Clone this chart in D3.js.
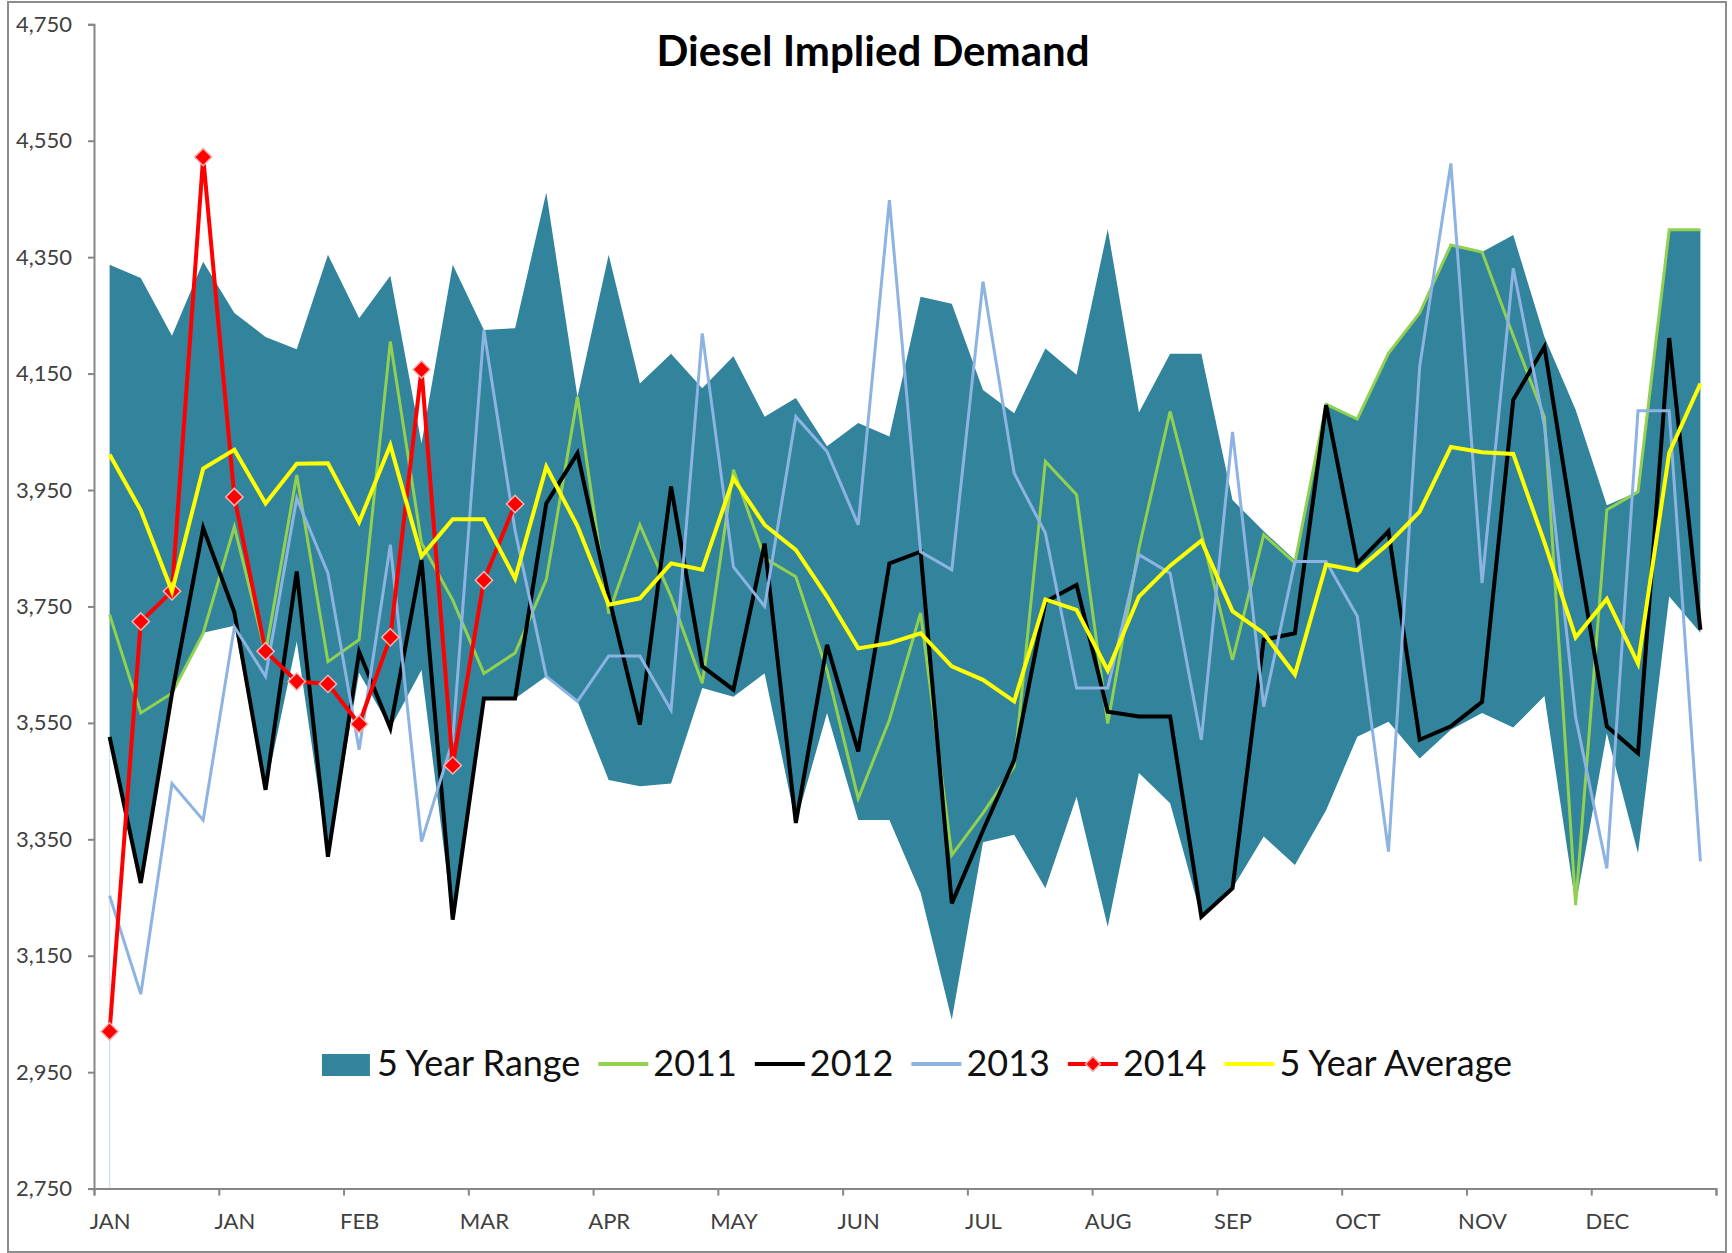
<!DOCTYPE html>
<html>
<head>
<meta charset="utf-8">
<script src="https://cdn.jsdelivr.net/npm/d3@7"></script>
<style>
  body { margin: 0; background: #fff; }
  svg { display: block; font-family: Lato, "Open Sans", sans-serif; }
</style>
</head>
<body>
<svg id="chart" width="1732" height="1253"></svg>
<script>
// Weekly values, 52 weeks (thousand b/d)
const monthLabels = ["JAN", "JAN", "FEB", "MAR", "APR", "MAY", "JUN", "JUL", "AUG", "SEP", "OCT", "NOV", "DEC"];
const labelWeeks = [0, 4, 8, 12, 16, 20, 24, 28, 32, 36, 40, 44, 48];
const yTicks = [2750, 2950, 3150, 3350, 3550, 3750, 3950, 4150, 4350, 4550, 4750];

const rangeMin = [3526, 3275, 3600, 3705, 3717, 3435, 3690, 3320, 3636, 3541, 3641, 3212, 3592, 3592, 3630, 3587,
  3452, 3441, 3446, 3610, 3595, 3635, 3378, 3567, 3383, 3383, 3258, 3040, 3345, 3358, 3266, 3423, 3200, 3464,
  3412, 3217, 3266, 3355, 3306, 3400, 3526, 3552, 3489, 3538, 3567, 3542, 3596, 3237, 3532, 3326, 3767, 3705];
const rangeMax = [4337, 4314, 4215, 4342, 4254, 4213, 4192, 4354, 4245, 4318, 4030, 4337, 4225, 4228, 4461, 4110,
  4354, 4133, 4184, 4125, 4180, 4076, 4108, 4025, 4065, 4042, 4282, 4270, 4122, 4082, 4193, 4148, 4398, 4083,
  4184, 4184, 3933, 3879, 3830, 4100, 4073, 4185, 4254, 4371, 4359, 4388, 4213, 4088, 3924, 3947, 4397, 4397];
const y2011 = [3736, 3567, 3601, 3704, 3887, 3670, 3976, 3655, 3693, 4205, 3859, 3761, 3635, 3670, 3796, 4110,
  3738, 3890, 3767, 3618, 3985, 3833, 3801, 3640, 3420, 3555, 3739, 3323, 3395, 3475, 3999, 3942, 3549, 3850,
  4085, 3876, 3658, 3873, 3825, 4097, 4072, 4185, 4254, 4371, 4359, 4215, 4075, 3237, 3916, 3947, 4397, 4397];
const y2012 = [3526, 3275, 3600, 3885, 3740, 3435, 3810, 3320, 3672, 3541, 3830, 3212, 3592, 3592, 3927, 4013,
  3767, 3547, 3956, 3647, 3607, 3858, 3378, 3684, 3501, 3824, 3844, 3240, 3365, 3486, 3758, 3787, 3569, 3561,
  3561, 3217, 3266, 3693, 3704, 4096, 3824, 3879, 3521, 3544, 3586, 4105, 4196, 3860, 3544, 3498, 4211, 3710];
const y2013 = [3253, 3084, 3446, 3383, 3715, 3630, 3936, 3807, 3504, 3856, 3346, 3520, 4225, 3880, 3630, 3587,
  3665, 3665, 3572, 4219, 3818, 3750, 4076, 4016, 3890, 4448, 3844, 3813, 4308, 3979, 3876, 3610, 3610, 3839,
  3807, 3521, 4050, 3578, 3827, 3827, 3733, 3329, 4162, 4511, 3790, 4331, 4060, 3560, 3300, 4086, 4086, 3312];
const y2014 = [3020, 3724, 3776, 4522, 3938, 3673, 3621, 3617, 3548, 3697, 4157, 3477, 3795, 3926];
const avg5 = [4011, 3915, 3776, 3987, 4019, 3927, 3995, 3996, 3895, 4027, 3836, 3900, 3900, 3798, 3990, 3888,
  3753, 3764, 3824, 3813, 3970, 3890, 3847, 3767, 3678, 3687, 3704, 3647, 3624, 3587, 3762, 3744, 3640, 3767,
  3820, 3863, 3742, 3704, 3633, 3822, 3812, 3858, 3913, 4024, 4015, 4012, 3860, 3697, 3763, 3652, 4014, 4133];

const colors = { range: "#31849B", y2011: "#92D050", y2012: "#000000", y2013: "#8DB3E2", y2014: "#FF0000", avg: "#FFFF00" };

const svg = d3.select("#chart");
const W = 1732, H = 1253;
const plot = { left: 94, right: 1716, top: 24.3, bottom: 1188.6 };
const nWeeks = rangeMin.length;

const x = d3.scaleLinear().domain([-0.5, nWeeks - 0.5]).range([plot.left, plot.right]);
const y = d3.scaleLinear().domain([2750, 4750]).range([plot.bottom, plot.top]);

// frame
svg.append("rect")
  .attr("x", 8).attr("y", 2).attr("width", W - 14).attr("height", H - 3)
  .attr("fill", "#fff").attr("stroke", "#8c8c8c").attr("stroke-width", 2);

// 5 year range band
const rangeData = rangeMin.map((d, i) => ({ i, lo: d, hi: rangeMax[i] }));
svg.append("path")
  .datum(rangeData)
  .attr("fill", colors.range)
  .attr("d", d3.area().x(d => x(d.i)).y0(d => y(d.lo)).y1(d => y(d.hi)));

// faint edge of the hidden base area at the first week
svg.append("line")
  .attr("x1", x(0)).attr("x2", x(0))
  .attr("y1", y(rangeMin[0])).attr("y2", y(2750))
  .attr("stroke", "#d6e2f0").attr("stroke-width", 1.5);

const line = d3.line().x((d, i) => x(i)).y(d => y(d));

const series = [
  { key: "y2011", data: y2011, w: 3 },
  { key: "y2012", data: y2012, w: 4 },
  { key: "y2013", data: y2013, w: 3 },
  { key: "y2014", data: y2014, w: 4 },
  { key: "avg", data: avg5, w: 4 }
];
series.forEach(s => {
  svg.append("path")
    .datum(s.data)
    .attr("fill", "none")
    .attr("stroke", colors[s.key])
    .attr("stroke-width", s.w)
    .attr("stroke-linejoin", "miter")
    .attr("d", line);
  if (s.key === "y2014") {
    svg.append("g").selectAll("path")
      .data(s.data)
      .join("path")
      .attr("d", d3.symbol(d3.symbolSquare, 150))
      .attr("transform", (d, i) => `translate(${x(i)},${y(d)}) rotate(45)`)
      .attr("fill", colors.y2014)
      .attr("stroke", "#f0b4b4")
      .attr("stroke-width", 1.5);
  }
});

// axes
const axisColor = "#868686";
const labelColor = "#404040";

const yAxis = svg.append("g")
  .attr("transform", `translate(${plot.left},0)`)
  .call(d3.axisLeft(y).tickValues(yTicks).tickSize(6).tickPadding(16).tickFormat(d3.format(",")));
yAxis.select(".domain").attr("stroke", axisColor).attr("stroke-width", 2);
yAxis.selectAll(".tick line").attr("stroke", axisColor).attr("stroke-width", 2);
yAxis.selectAll("text").attr("fill", labelColor).style("font-size", "22px").style("font-family", "Lato");

const tickBounds = d3.range(0, nWeeks + 1, 4).map(d => d - 0.5);
const xAxis = svg.append("g")
  .attr("transform", `translate(0,${plot.bottom})`)
  .call(d3.axisBottom(x).tickValues(tickBounds).tickSize(7).tickFormat(""));
xAxis.select(".domain").attr("stroke", axisColor).attr("stroke-width", 2);
xAxis.selectAll(".tick line").attr("stroke", axisColor).attr("stroke-width", 2);

const xLabels = svg.append("g")
  .attr("transform", `translate(0,${plot.bottom})`)
  .call(d3.axisBottom(x).tickValues(labelWeeks).tickSize(0).tickPadding(25)
    .tickFormat((d, i) => monthLabels[i]));
xLabels.select(".domain").remove();
xLabels.selectAll("text").attr("fill", labelColor).style("font-size", "22px").style("font-family", "Lato");

// title
svg.append("text")
  .attr("x", 873).attr("y", 66)
  .attr("text-anchor", "middle")
  .style("font-family", "Lato").style("font-weight", "bold").style("font-size", "42px")
  .attr("fill", "#000")
  .text("Diesel Implied Demand");

// legend
const legendItems = [
  { name: "5 Year Range", key: "range", type: "rect" },
  { name: "2011", key: "y2011", type: "line" },
  { name: "2012", key: "y2012", type: "line" },
  { name: "2013", key: "y2013", type: "line" },
  { name: "2014", key: "y2014", type: "marker" },
  { name: "5 Year Average", key: "avg", type: "line" }
];
const legend = svg.append("g");
const lgBase = 1076, lgMid = 1064;
let lx = 0;
legendItems.forEach((it, k) => {
  const g = legend.append("g").attr("transform", `translate(${lx},0)`);
  if (it.type === "rect") {
    g.append("rect").attr("x", 0).attr("y", 1054).attr("width", 48).attr("height", 22).attr("fill", colors.range);
  } else {
    g.append("line").attr("x1", 0).attr("x2", 50).attr("y1", lgMid).attr("y2", lgMid)
      .attr("stroke", colors[it.key]).attr("stroke-width", 4);
    if (it.type === "marker") {
      g.append("path").attr("d", d3.symbol(d3.symbolSquare, 110))
        .attr("transform", `translate(25,${lgMid}) rotate(45)`)
        .attr("fill", colors.y2014).attr("stroke", "#f0b4b4").attr("stroke-width", 1.5);
    }
  }
  const t = g.append("text").attr("x", 55).attr("y", lgBase)
    .style("font-family", "Lato").style("font-size", "36px").attr("fill", "#111")
    .text(it.name);
  lx += 55 + t.node().getComputedTextLength() + 18;
});
const lgWidth = lx - 18;
legend.attr("transform", `translate(${917 - lgWidth / 2},0)`);
</script>
</body>
</html>
